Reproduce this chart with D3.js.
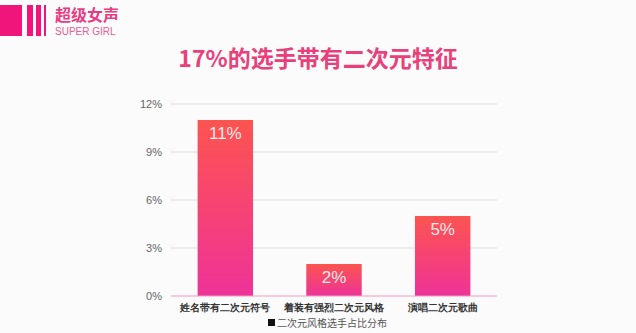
<!DOCTYPE html>
<html>
<head>
<meta charset="utf-8">
<script src="https://cdn.jsdelivr.net/npm/d3@7"></script>
<style>
  html, body { margin: 0; padding: 0; background: #fbfbfb; }
  svg { display: block; font-family: "Noto Sans CJK SC", "Noto Sans", sans-serif; }
</style>
</head>
<body>
<div id="chart"></div>
<script>
var categories = ["姓名带有二次元符号", "着装有强烈二次元风格", "演唱二次元歌曲"];
var values = [11, 2, 5];
var yTicks = [0, 3, 6, 9, 12];
var legendLabel = "二次元风格选手占比分布";
var titleText = "17%的选手带有二次元特征";

var width = 636, height = 333;
var margin = {top: 104, right: 139, bottom: 37, left: 171};

var svg = d3.select("#chart").append("svg")
    .attr("width", width)
    .attr("height", height);

var defs = svg.append("defs");
var grad = defs.append("linearGradient")
    .attr("id", "barGrad")
    .attr("x1", "0").attr("y1", "0").attr("x2", "0").attr("y2", "1");
grad.append("stop").attr("offset", "0%").attr("stop-color", "#fc5450");
grad.append("stop").attr("offset", "100%").attr("stop-color", "#ee3398");

// header logo
var logo = svg.append("g");
logo.append("rect").attr("x", 0).attr("y", 5).attr("width", 22).attr("height", 31).attr("fill", "#f0157a");
logo.append("rect").attr("x", 27).attr("y", 5).attr("width", 6).attr("height", 31).attr("fill", "#f0157a");
logo.append("rect").attr("x", 36).attr("y", 5).attr("width", 5).attr("height", 31).attr("fill", "#f0157a");
logo.append("rect").attr("x", 44).attr("y", 5).attr("width", 2).attr("height", 31).attr("fill", "#f0157a");
logo.append("text").attr("x", 55).attr("y", 21)
    .attr("font-size", 16).attr("font-weight", "bold").attr("fill", "#e83c82")
    .text("超级女声");
logo.append("text").attr("x", 55).attr("y", 35)
    .attr("font-size", 10).attr("fill", "#ee5a93")
    .attr("font-family", "Liberation Sans, sans-serif")
    .text("SUPER GIRL");

// title
svg.append("text")
    .attr("x", 318).attr("y", 67)
    .attr("text-anchor", "middle")
    .attr("font-size", 23).attr("font-weight", "bold")
    .attr("fill", "#e8407a")
    .text(titleText);

var g = svg.append("g").attr("transform", "translate(" + margin.left + "," + margin.top + ")");
var w = width - margin.left - margin.right;
var h = 296 - margin.top;

var x = d3.scaleBand().domain(categories).range([0, w]).paddingInner(0.49).paddingOuter(0.245);
var y = d3.scaleLinear().domain([0, 12]).range([h, 0]);

// grid
g.selectAll(".grid")
    .data(yTicks.slice(1))
    .enter().append("line")
    .attr("x1", 0).attr("x2", w)
    .attr("y1", function(d) { return y(d); })
    .attr("y2", function(d) { return y(d); })
    .attr("stroke", "#dcdcdc").attr("stroke-width", 1);

var yAxis = g.append("g")
    .call(d3.axisLeft(y).tickValues(yTicks).tickSize(0).tickPadding(9)
        .tickFormat(function(d) { return d + "%"; }));
yAxis.select(".domain").remove();
yAxis.selectAll("text")
    .attr("font-size", 11).attr("fill", "#666")
    .attr("font-family", "Liberation Sans, sans-serif");

// bars
g.selectAll(".bar")
    .data(values)
    .enter().append("rect")
    .attr("x", function(d, i) { return x(categories[i]); })
    .attr("y", function(d) { return y(d); })
    .attr("width", x.bandwidth())
    .attr("height", function(d) { return h - y(d); })
    .attr("fill", "url(#barGrad)");

g.selectAll(".lbl")
    .data(values)
    .enter().append("text")
    .attr("x", function(d, i) { return x(categories[i]) + x.bandwidth() / 2; })
    .attr("y", function(d) { return y(d) + 19; })
    .attr("text-anchor", "middle")
    .attr("font-size", 17)
    .attr("fill", "#fbe8ea")
    .attr("font-family", "Liberation Sans, sans-serif")
    .text(function(d) { return d + "%"; });

// baseline
g.append("line").attr("x1", 0).attr("x2", w).attr("y1", h).attr("y2", h)
    .attr("stroke", "#f19ac0").attr("stroke-width", 1);

// category labels
var xAxis = g.append("g").attr("transform", "translate(0," + h + ")")
    .call(d3.axisBottom(x).tickSize(0).tickPadding(8));
xAxis.select(".domain").remove();
xAxis.selectAll("text")
    .attr("font-size", 10).attr("font-weight", "bold").attr("fill", "#333");

// legend
var leg = svg.append("g").attr("transform", "translate(268,319)");
leg.append("rect").attr("x", 0).attr("y", 0).attr("width", 7).attr("height", 7).attr("fill", "#111");
leg.append("text").attr("x", 9).attr("y", 7.5)
    .attr("font-size", 10).attr("fill", "#555")
    .text(legendLabel);
</script>
</body>
</html>
